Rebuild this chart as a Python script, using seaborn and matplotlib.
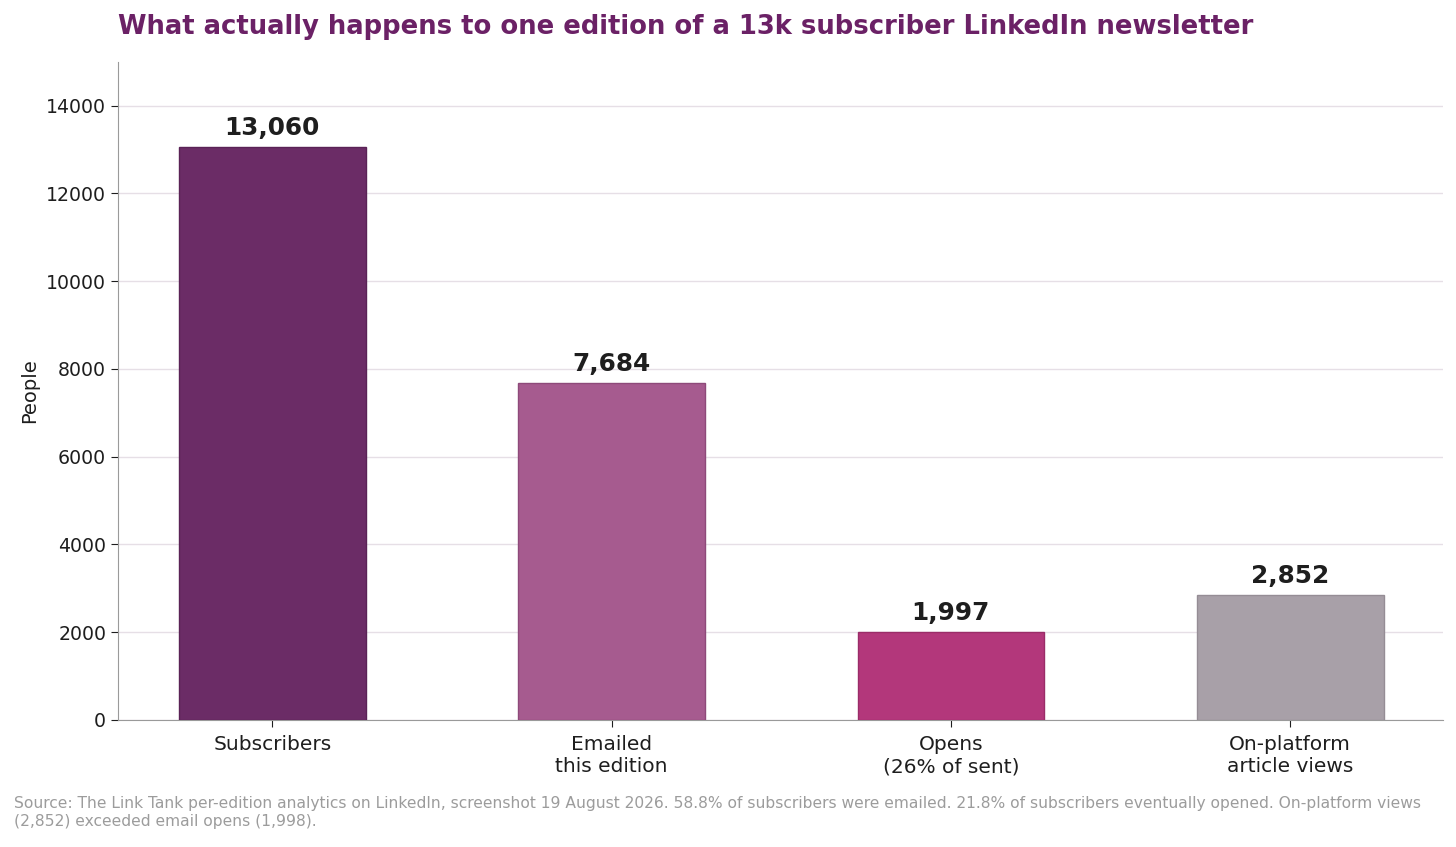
import numpy as np
import pandas as pd
import matplotlib
matplotlib.use("Agg")
import matplotlib.pyplot as plt
import seaborn as sns

# Data
stages = ["Subscribers", "Emailed\nthis edition", "Opens\n(26% of sent)", "On-platform\narticle views"]
people = [13060, 7684, 1997, 2852]
bar_colors = ["#6B2C66", "#A65B8F", "#B3377B", "#A8A0A8"]
edge_colors = ["#5A2256", "#8E4A7A", "#9A2C68", "#958D95"]

title = "What actually happens to one edition of a 13k subscriber LinkedIn newsletter"
source = ("Source: The Link Tank per-edition analytics on LinkedIn, screenshot 19 August 2026. "
          "58.8% of subscribers were emailed. 21.8% of subscribers eventually opened. On-platform views\n"
          "(2,852) exceeded email opens (1,998).")

df = pd.DataFrame({"stage": stages, "people": people})

sns.set_style("ticks")
plt.rcParams["font.family"] = ["DejaVu Sans"]

fig, ax = plt.subplots(figsize=(14.56, 8.47), dpi=100)
fig.subplots_adjust(left=0.081, right=0.991, top=0.927, bottom=0.15)

sns.barplot(data=df, x="stage", y="people", hue="stage", palette=bar_colors,
            saturation=1, width=0.55, legend=False, ax=ax, zorder=3)
for patch, ec in zip(ax.patches, edge_colors):
    patch.set_edgecolor(ec)
    patch.set_linewidth(1.0)

for i, v in enumerate(people):
    ax.annotate(f"{v:,}", xy=(i, v), xytext=(0, 5), textcoords="offset points",
                ha="center", va="bottom", fontsize=17.8, fontweight="bold", color="#1E1E1E")

ax.set_ylim(0, 15000)
ax.set_xlim(-0.455, 3.45)
ax.set_yticks(np.arange(0, 14001, 2000))
ax.yaxis.grid(True, color="#E6DFE6", linewidth=1.0, zorder=0)
ax.set_axisbelow(True)

ax.set_xlabel("")
ax.set_ylabel("People", fontsize=14, color="#1E1E1E", labelpad=5)
ax.tick_params(axis="y", labelsize=13.6, colors="#1E1E1E", length=5)
ax.tick_params(axis="x", labelsize=14.5, colors="#1E1E1E", length=5, pad=6)
for s in ["left", "bottom"]:
    ax.spines[s].set_color("#9A9A9A")
sns.despine(ax=ax)

ax.set_title(title, loc="left", fontsize=18.6, fontweight="bold", color="#6B2166", pad=20, x=0.0)

fig.text(0.0095, 0.021, source, fontsize=11.2, color="#9C9C9C", ha="left", va="bottom",
         linespacing=1.3)

fig.savefig("out.png", dpi=100)
